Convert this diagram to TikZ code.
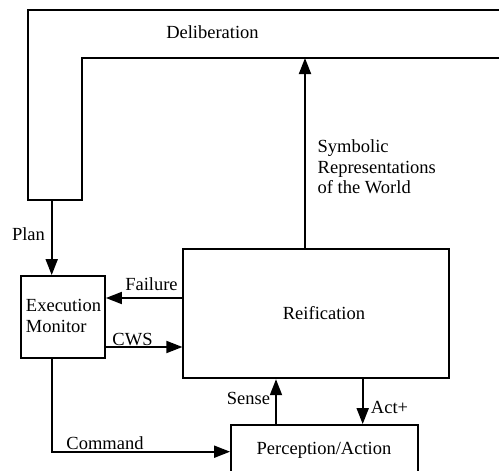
\documentclass[tikz,border=0pt]{standalone}
\usepackage{fontspec}
\setmainfont{Liberation Serif}
\usetikzlibrary{arrows.meta}
\begin{document}
\begin{tikzpicture}[x=1pt,y=-1pt,
  every node/.style={font=\fontsize{18.5}{20.5}\selectfont, inner sep=0pt},
  box/.style={draw, line width=1.8pt, align=center},
  flow/.style={line width=1.8pt, -{Triangle[length=16pt,width=12pt]}},
  lbl/.style={align=left}]
\useasboundingbox (0,0) rectangle (499,471);

% Deliberation layer: an open L-shaped band running off the right edge
\draw[line width=1.8pt, line join=miter]
  (505,10) -- (28,10) -- (28,200) -- (82,200) -- (82,58) -- (505,58);
\node (delib) at (212.5,32) {Deliberation};
\coordinate (planout) at (51.7,200);
\coordinate (symin) at (305,58);

% Boxes
\node[box, minimum width=84pt, minimum height=82pt] (exec) at (63,317) {};
\node[lbl] (exectext) at (63.5,316) {Execution\\Monitor};
\node[box, minimum width=266pt, minimum height=129pt] (reif) at (316.3,313.8) {};
\node (reiftext) at (324,313) {Reification};
\node[box, minimum width=187pt, minimum height=51pt] (perc) at (324.5,450.5) {};
\node (perctext) at (324,450) {Perception/Action};

% Connectors
\draw[flow] (planout) -- (planout |- exec.north);
\draw[flow] (reif.north -| symin) -- (symin);
\draw[flow] (reif.west |- 0,298) -- (exec.east |- 0,298);
\draw[flow] (exec.east |- 0,347) -- (reif.west |- 0,347);
\draw[line width=1.8pt, -{Triangle[length=16pt,width=12pt]}, line join=miter]
  (exec.south -| planout) -- (51.7,451.7) -- (perc.west |- 0,451.7);
\draw[flow] (perc.north -| 276,0) -- (reif.south -| 276,0);
\draw[flow] (reif.south -| 362.7,0) -- (perc.north -| 362.7,0);

% Labels
\node (plan) at (28.5,234) {Plan};
\node[lbl, anchor=west] (sym) at (317.5,167) {Symbolic\\Representations\\of the World};
\node (fail) at (151.5,284) {Failure};
\node (cws) at (132.5,339.5) {CWS};
\node (cmd) at (105,443.5) {Command};
\node (sense) at (248.5,398) {Sense};
\node (act) at (389.5,407) {Act+};
\end{tikzpicture}
\end{document}
